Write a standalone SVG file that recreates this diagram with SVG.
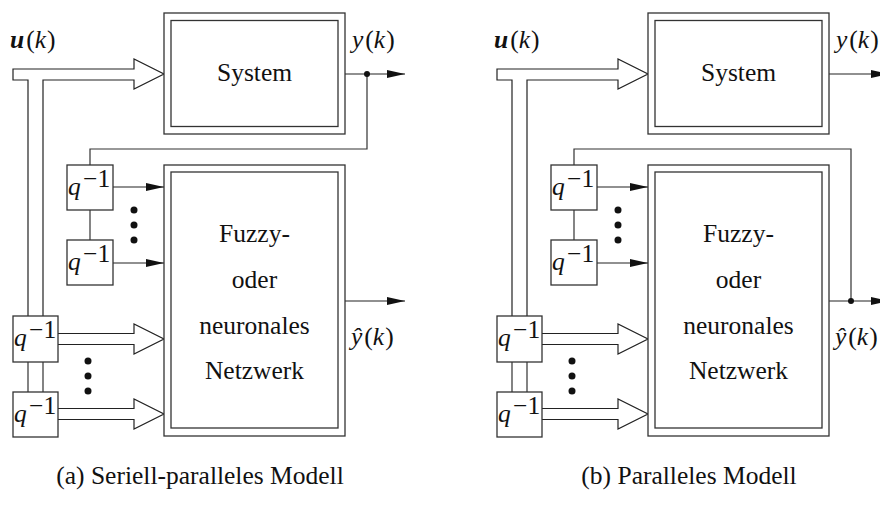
<svg xmlns="http://www.w3.org/2000/svg" width="880" height="509" viewBox="0 0 880 509">
<defs>
<marker id="ah" markerUnits="userSpaceOnUse" markerWidth="18" markerHeight="8" refX="18" refY="4" orient="auto">
<path d="M0,0 L18,4 L0,8 z" fill="#111"/>
</marker>
<style>
.box{fill:#fff;stroke:#333;stroke-width:1.3}
.ln{fill:none;stroke:#333;stroke-width:1.2}
.dbl{fill:#fff;stroke:#222;stroke-width:1.2;stroke-linejoin:miter}
.arr{fill:none;stroke:#222;stroke-width:1.2;marker-end:url(#ah)}
.t{font-family:"Liberation Serif","Times New Roman",serif;font-size:25.5px;fill:#111}
.c{text-anchor:middle}
.i{font-style:italic}
.dot{fill:#111}
</style>
</defs>
<rect width="880" height="509" fill="#fff"/>

<!-- ============ (a) ============ -->
<g id="a-connectors">
<path class="dbl" d="M28,316 V80 H13 V69 H134 V59 L164,74 L134,89 V80 H43 V316"/>
<path class="ln" d="M28,362 V392 M43,362 V392"/>
<path class="dbl" d="M58,333.5 H134 V324 L164,339 L134,354 V344.5 H58"/>
<path class="dbl" d="M58,408.5 H134 V399 L164,414 L134,429 V419.5 H58"/>
<path class="arr" d="M113,187 H164"/>
<path class="arr" d="M113,263 H164"/>
<path class="arr" d="M345,74 H405"/>
<path class="arr" d="M345,301 H405"/>
<path class="ln" d="M367,74 V149 H90 V165"/>
<path class="ln" d="M90,210 V240"/>
<circle class="dot" cx="367" cy="74" r="3"/>
<circle class="dot" cx="134" cy="210" r="3.5"/>
<circle class="dot" cx="134" cy="225" r="3.5"/>
<circle class="dot" cx="134" cy="240" r="3.5"/>
<circle class="dot" cx="88" cy="361" r="3.5"/>
<circle class="dot" cx="88" cy="376" r="3.5"/>
<circle class="dot" cx="88" cy="391" r="3.5"/>
</g>
<g id="a-system">
<rect class="box" x="164" y="13" width="181" height="121"/>
<rect class="box" x="171" y="20.5" width="167" height="106"/>
<text class="t c" x="254.5" y="81">System</text>
</g>
<g id="a-net">
<rect class="box" x="164" y="165" width="181" height="271"/>
<rect class="box" x="171" y="172" width="167" height="256"/>
<text class="t c" x="254.5" y="242">Fuzzy-</text>
<text class="t c" x="254.5" y="288">oder</text>
<text class="t c" x="254.5" y="334">neuronales</text>
<text class="t c" x="254.5" y="379">Netzwerk</text>
</g>
<g id="a-q1">
<rect class="box" x="67" y="165" width="46" height="45"/>
<text class="t i" x="68" y="195" font-size="26">q</text><text class="t" x="83" y="187" font-size="19">−1</text>
</g>
<g id="a-q2">
<rect class="box" x="67" y="240" width="46" height="45"/>
<text class="t i" x="68" y="270" font-size="26">q</text><text class="t" x="83" y="262" font-size="19">−1</text>
</g>
<g id="a-q3">
<rect class="box" x="13" y="316" width="45" height="46"/>
<text class="t i" x="14" y="346" font-size="26">q</text><text class="t" x="29" y="338" font-size="19">−1</text>
</g>
<g id="a-q4">
<rect class="box" x="13" y="392" width="45" height="45"/>
<text class="t i" x="14" y="422" font-size="26">q</text><text class="t" x="29" y="414" font-size="19">−1</text>
</g>
<g id="a-labels">
<text class="t" x="10" y="48" font-size="27"><tspan font-weight="bold" font-style="italic">u</tspan><tspan dx="2">(</tspan><tspan font-style="italic">k</tspan><tspan dx="1">)</tspan></text>
<text class="t" x="352" y="48" font-size="27"><tspan font-style="italic">y</tspan><tspan dx="2">(</tspan><tspan font-style="italic">k</tspan><tspan dx="1">)</tspan></text>
<text class="t" x="351" y="345" font-size="27"><tspan font-style="italic">ŷ</tspan><tspan dx="2">(</tspan><tspan font-style="italic">k</tspan><tspan dx="1">)</tspan></text>
<text class="t c" x="200" y="484" font-size="26.5">(a) Seriell-paralleles Modell</text>
</g>

<!-- ============ (b) ============ -->
<g id="b-connectors">
<path class="dbl" d="M512,316 V80 H497 V69 H618 V59 L648,74 L618,89 V80 H527 V316"/>
<path class="ln" d="M512,362 V392 M527,362 V392"/>
<path class="dbl" d="M542,333.5 H618 V324 L648,339 L618,354 V344.5 H542"/>
<path class="dbl" d="M542,408.5 H618 V399 L648,414 L618,429 V419.5 H542"/>
<path class="arr" d="M597,187 H648"/>
<path class="arr" d="M597,263 H648"/>
<path class="arr" d="M829,74 H889"/>
<path class="arr" d="M829,301 H889"/>
<path class="ln" d="M851,301 V149 H574 V165"/>
<path class="ln" d="M574,210 V240"/>
<circle class="dot" cx="851" cy="301" r="3"/>
<circle class="dot" cx="618" cy="210" r="3.5"/>
<circle class="dot" cx="618" cy="225" r="3.5"/>
<circle class="dot" cx="618" cy="240" r="3.5"/>
<circle class="dot" cx="572" cy="361" r="3.5"/>
<circle class="dot" cx="572" cy="376" r="3.5"/>
<circle class="dot" cx="572" cy="391" r="3.5"/>
</g>
<g id="b-system">
<rect class="box" x="648" y="13" width="181" height="121"/>
<rect class="box" x="655" y="20.5" width="167" height="106"/>
<text class="t c" x="738.5" y="81">System</text>
</g>
<g id="b-net">
<rect class="box" x="648" y="165" width="181" height="271"/>
<rect class="box" x="655" y="172" width="167" height="256"/>
<text class="t c" x="738.5" y="242">Fuzzy-</text>
<text class="t c" x="738.5" y="288">oder</text>
<text class="t c" x="738.5" y="334">neuronales</text>
<text class="t c" x="738.5" y="379">Netzwerk</text>
</g>
<g id="b-q1">
<rect class="box" x="551" y="165" width="46" height="45"/>
<text class="t i" x="552" y="195" font-size="26">q</text><text class="t" x="567" y="187" font-size="19">−1</text>
</g>
<g id="b-q2">
<rect class="box" x="551" y="240" width="46" height="45"/>
<text class="t i" x="552" y="270" font-size="26">q</text><text class="t" x="567" y="262" font-size="19">−1</text>
</g>
<g id="b-q3">
<rect class="box" x="497" y="316" width="45" height="46"/>
<text class="t i" x="498" y="346" font-size="26">q</text><text class="t" x="513" y="338" font-size="19">−1</text>
</g>
<g id="b-q4">
<rect class="box" x="497" y="392" width="45" height="45"/>
<text class="t i" x="498" y="422" font-size="26">q</text><text class="t" x="513" y="414" font-size="19">−1</text>
</g>
<g id="b-labels">
<text class="t" x="494" y="48" font-size="27"><tspan font-weight="bold" font-style="italic">u</tspan><tspan dx="2">(</tspan><tspan font-style="italic">k</tspan><tspan dx="1">)</tspan></text>
<text class="t" x="836" y="48" font-size="27"><tspan font-style="italic">y</tspan><tspan dx="2">(</tspan><tspan font-style="italic">k</tspan><tspan dx="1">)</tspan></text>
<text class="t" x="835" y="345" font-size="27"><tspan font-style="italic">ŷ</tspan><tspan dx="2">(</tspan><tspan font-style="italic">k</tspan><tspan dx="1">)</tspan></text>
<text class="t c" x="689" y="484" font-size="26.5">(b) Paralleles Modell</text>
</g>
</svg>
